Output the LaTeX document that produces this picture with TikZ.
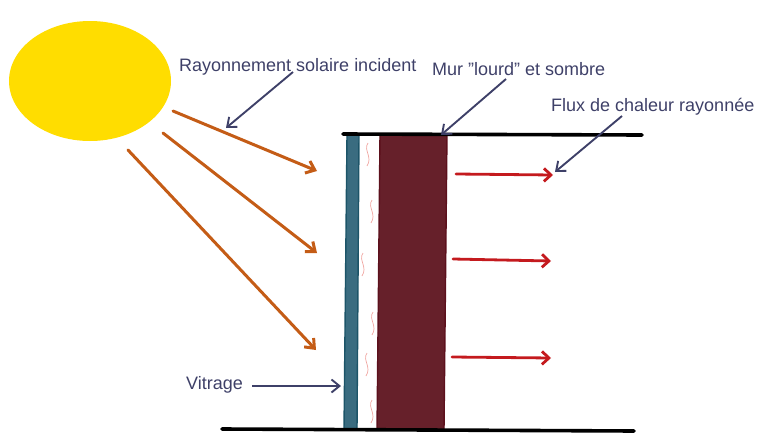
\documentclass[tikz,border=0pt]{standalone}
\usepackage{fontspec}
\setmainfont{Liberation Sans}
\usetikzlibrary{arrows.meta,shapes.geometric}
\definecolor{sunyellow}{RGB}{255,221,0}
\definecolor{rayorange}{RGB}{196,92,22}
\definecolor{heatred}{RGB}{196,26,30}
\definecolor{glassblue}{RGB}{58,108,128}
\definecolor{glassedge}{RGB}{28,84,104}
\definecolor{wallred}{RGB}{102,32,42}
\definecolor{walledge}{RGB}{92,16,28}
\definecolor{noteblue}{RGB}{62,64,104}
\definecolor{squigglered}{RGB}{240,165,160}
\tikzset{
  raylink/.style={draw=rayorange,line width=3pt,line cap=round,-{Straight Barb[length=8pt,width=13pt]}},
  heatlink/.style={draw=heatred,line width=2.8pt,line cap=round,-{Straight Barb[length=7pt,width=13pt]}},
  notelink/.style={draw=noteblue,line width=1.9pt,-{Straight Barb[length=8pt,width=13pt]}},
  notelabel/.style={text=noteblue,font=\fontsize{18}{21}\selectfont,inner sep=0pt,anchor=base west},
  floorline/.style={draw=black,line width=3.6pt,line cap=round}
}
\begin{document}
\begin{tikzpicture}[x=1pt,y=-1pt]
    \useasboundingbox (0,0) rectangle (764,442);
    % sun
    \node[draw=none,fill=sunyellow,ellipse,minimum width=162pt,minimum height=120pt,inner sep=0pt] (sun) at (90,81) {};
    % glazing and wall
    \filldraw[fill=glassblue,draw=glassedge,line width=1.4pt] (347,135) -- (359,135) -- (357,430) -- (344,430) -- cycle;
    \filldraw[fill=wallred,draw=walledge,line width=1.4pt] (380,135) -- (447,135) -- (444,430) -- (377,430) -- cycle;
    % air gap
    \foreach \xs/\ys in {368/143,372/200,363/253,373/312,367/353,372/400}
      \draw[squigglered,line width=.7pt] (\xs,\ys) .. controls (\xs-5,\ys+7) and (\xs+5,\ys+14) .. (\xs-1,\ys+23);
    % top and bottom
    \coordinate (topa) at (343,134);
    \coordinate (topb) at (642,135);
    \coordinate (bota) at (222,429);
    \coordinate (botb) at (634,431);
    \draw[floorline] (topa) -- (topb);
    \draw[floorline] (bota) -- (botb);
    % rays
    \coordinate (raya) at (173,111);
    \coordinate (rayb) at (163,133);
    \coordinate (rayc) at (128,150);
    \coordinate (rayaend) at (317,171);
    \coordinate (raybend) at (317,253);
    \coordinate (raycend) at (316,350);
    \draw[raylink] (raya) -- (rayaend);
    \draw[raylink] (rayb) -- (raybend);
    \draw[raylink] (rayc) -- (raycend);
    % heat
    \coordinate (heata) at (456,174);
    \coordinate (heatb) at (453,259);
    \coordinate (heatc) at (452,357);
    \coordinate (heataend) at (553,175);
    \coordinate (heatbend) at (551,261);
    \coordinate (heatcend) at (551,358);
    \draw[heatlink] (heata) -- (heataend);
    \draw[heatlink] (heatb) -- (heatbend);
    \draw[heatlink] (heatc) -- (heatcend);
    % labels
    \node[notelabel] (rayonnement) at (179,71) {Rayonnement solaire incident};
    \node[notelabel] (mur) at (432,75) {Mur ”lourd” et sombre};
    \node[notelabel] (flux) at (551,111) {Flux de chaleur rayonnée};
    \node[notelabel] (vitrage) at (186,389) {Vitrage};
    \coordinate (rayonnementfrom) at (293,72);
    \coordinate (rayonnementto) at (226,128);
    \coordinate (murfrom) at (506,79);
    \coordinate (murto) at (441,135);
    \coordinate (fluxfrom) at (622,116);
    \coordinate (fluxto) at (555,172);
    \coordinate (vitragefrom) at (252,386);
    \coordinate (vitrageto) at (341,386);
    \draw[notelink] (rayonnementfrom) -- (rayonnementto);
    \draw[notelink] (murfrom) -- (murto);
    \draw[notelink] (fluxfrom) -- (fluxto);
    \draw[notelink] (vitragefrom) -- (vitrageto);
  \end{tikzpicture}
\end{document}
